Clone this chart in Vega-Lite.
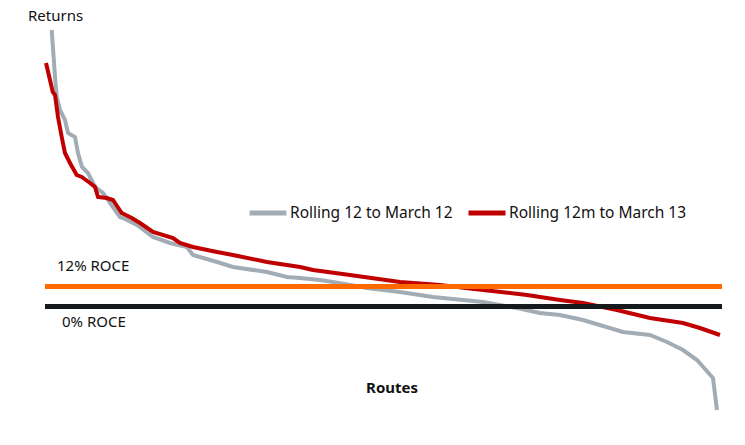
{
  "$schema": "https://vega.github.io/schema/vega-lite/v6.json",
  "width": 745,
  "height": 445,
  "padding": 0,
  "autosize": {"type": "fit", "contains": "padding"},
  "config": {"view": {"stroke": null}, "font": "Noto Sans"},
  "datasets": {
    "returns": [
      {"series": "Rolling 12 to March 12", "route": 0.99, "ret": 165.9},
      {"series": "Rolling 12 to March 12", "route": 1.23, "ret": 152.1},
      {"series": "Rolling 12 to March 12", "route": 1.48, "ret": 137.7},
      {"series": "Rolling 12 to March 12", "route": 1.73, "ret": 125.7},
      {"series": "Rolling 12 to March 12", "route": 2.22, "ret": 117.9},
      {"series": "Rolling 12 to March 12", "route": 2.95, "ret": 111.9},
      {"series": "Rolling 12 to March 12", "route": 3.40, "ret": 104.1},
      {"series": "Rolling 12 to March 12", "route": 4.43, "ret": 101.7},
      {"series": "Rolling 12 to March 12", "route": 4.87, "ret": 92.1},
      {"series": "Rolling 12 to March 12", "route": 5.47, "ret": 83.7},
      {"series": "Rolling 12 to March 12", "route": 6.35, "ret": 80.1},
      {"series": "Rolling 12 to March 12", "route": 7.39, "ret": 71.7},
      {"series": "Rolling 12 to March 12", "route": 8.57, "ret": 68.1},
      {"series": "Rolling 12 to March 12", "route": 9.31, "ret": 63.9},
      {"series": "Rolling 12 to March 12", "route": 10.04, "ret": 59.7},
      {"series": "Rolling 12 to March 12", "route": 11.08, "ret": 53.7},
      {"series": "Rolling 12 to March 12", "route": 11.52, "ret": 53.1},
      {"series": "Rolling 12 to March 12", "route": 13.59, "ret": 48.9},
      {"series": "Rolling 12 to March 12", "route": 15.95, "ret": 41.7},
      {"series": "Rolling 12 to March 12", "route": 18.46, "ret": 38.1},
      {"series": "Rolling 12 to March 12", "route": 20.97, "ret": 35.7},
      {"series": "Rolling 12 to March 12", "route": 21.86, "ret": 30.9},
      {"series": "Rolling 12 to March 12", "route": 25.41, "ret": 26.7},
      {"series": "Rolling 12 to March 12", "route": 27.77, "ret": 23.7},
      {"series": "Rolling 12 to March 12", "route": 32.79, "ret": 20.7},
      {"series": "Rolling 12 to March 12", "route": 35.75, "ret": 17.7},
      {"series": "Rolling 12 to March 12", "route": 37.67, "ret": 17.1},
      {"series": "Rolling 12 to March 12", "route": 40.62, "ret": 15.9},
      {"series": "Rolling 12 to March 12", "route": 42.54, "ret": 14.7},
      {"series": "Rolling 12 to March 12", "route": 47.56, "ret": 11.1},
      {"series": "Rolling 12 to March 12", "route": 52.44, "ret": 8.7},
      {"series": "Rolling 12 to March 12", "route": 57.31, "ret": 5.7},
      {"series": "Rolling 12 to March 12", "route": 64.70, "ret": 2.7},
      {"series": "Rolling 12 to March 12", "route": 69.72, "ret": -0.9},
      {"series": "Rolling 12 to March 12", "route": 73.12, "ret": -3.9},
      {"series": "Rolling 12 to March 12", "route": 76.07, "ret": -5.1},
      {"series": "Rolling 12 to March 12", "route": 79.47, "ret": -8.1},
      {"series": "Rolling 12 to March 12", "route": 85.38, "ret": -15.3},
      {"series": "Rolling 12 to March 12", "route": 89.36, "ret": -17.1},
      {"series": "Rolling 12 to March 12", "route": 91.88, "ret": -21.3},
      {"series": "Rolling 12 to March 12", "route": 94.24, "ret": -26.1},
      {"series": "Rolling 12 to March 12", "route": 96.31, "ret": -32.1},
      {"series": "Rolling 12 to March 12", "route": 98.67, "ret": -42.9},
      {"series": "Rolling 12 to March 12", "route": 99.26, "ret": -62.1},
      {"series": "Rolling 12m to March 13", "route": 0.15, "ret": 146.1},
      {"series": "Rolling 12m to March 13", "route": 0.74, "ret": 135.9},
      {"series": "Rolling 12m to March 13", "route": 1.14, "ret": 128.7},
      {"series": "Rolling 12m to March 13", "route": 1.48, "ret": 126.9},
      {"series": "Rolling 12m to March 13", "route": 1.92, "ret": 113.7},
      {"series": "Rolling 12m to March 13", "route": 2.47, "ret": 101.7},
      {"series": "Rolling 12m to March 13", "route": 2.95, "ret": 92.1},
      {"series": "Rolling 12m to March 13", "route": 3.69, "ret": 86.1},
      {"series": "Rolling 12m to March 13", "route": 4.68, "ret": 78.9},
      {"series": "Rolling 12m to March 13", "route": 5.42, "ret": 77.7},
      {"series": "Rolling 12m to March 13", "route": 6.65, "ret": 74.1},
      {"series": "Rolling 12m to March 13", "route": 7.39, "ret": 71.7},
      {"series": "Rolling 12m to March 13", "route": 7.83, "ret": 65.7},
      {"series": "Rolling 12m to March 13", "route": 9.11, "ret": 65.1},
      {"series": "Rolling 12m to March 13", "route": 10.04, "ret": 63.9},
      {"series": "Rolling 12m to March 13", "route": 10.34, "ret": 62.1},
      {"series": "Rolling 12m to March 13", "route": 11.33, "ret": 56.1},
      {"series": "Rolling 12m to March 13", "route": 12.81, "ret": 53.1},
      {"series": "Rolling 12m to March 13", "route": 14.03, "ret": 50.1},
      {"series": "Rolling 12m to March 13", "route": 15.95, "ret": 44.7},
      {"series": "Rolling 12m to March 13", "route": 18.91, "ret": 41.1},
      {"series": "Rolling 12m to March 13", "route": 19.94, "ret": 38.1},
      {"series": "Rolling 12m to March 13", "route": 21.86, "ret": 35.7},
      {"series": "Rolling 12m to March 13", "route": 25.41, "ret": 32.7},
      {"series": "Rolling 12m to March 13", "route": 27.77, "ret": 30.9},
      {"series": "Rolling 12m to March 13", "route": 32.79, "ret": 26.7},
      {"series": "Rolling 12m to March 13", "route": 37.67, "ret": 23.7},
      {"series": "Rolling 12m to March 13", "route": 39.59, "ret": 21.9},
      {"series": "Rolling 12m to March 13", "route": 45.05, "ret": 18.9},
      {"series": "Rolling 12m to March 13", "route": 52.44, "ret": 14.7},
      {"series": "Rolling 12m to March 13", "route": 58.35, "ret": 12.9},
      {"series": "Rolling 12m to March 13", "route": 64.70, "ret": 9.9},
      {"series": "Rolling 12m to March 13", "route": 71.20, "ret": 6.9},
      {"series": "Rolling 12m to March 13", "route": 76.07, "ret": 3.9},
      {"series": "Rolling 12m to March 13", "route": 79.47, "ret": 2.1},
      {"series": "Rolling 12m to March 13", "route": 84.49, "ret": -2.1},
      {"series": "Rolling 12m to March 13", "route": 89.36, "ret": -6.9},
      {"series": "Rolling 12m to March 13", "route": 94.24, "ret": -9.9},
      {"series": "Rolling 12m to March 13", "route": 96.75, "ret": -12.9},
      {"series": "Rolling 12m to March 13", "route": 99.70, "ret": -17.1}
    ],
    "refs": [
      {"label": "12% ROCE", "ret": 12, "start": 0, "end": 100},
      {"label": "0% ROCE", "ret": 0, "start": 0, "end": 100}
    ],
    "labels": [
      {"text": "Returns", "route": -2.51, "ret": 174.3, "kind": "axis"},
      {"text": "12% ROCE", "route": 1.77, "ret": 24.3, "kind": "ref"},
      {"text": "0% ROCE", "route": 2.51, "ret": -9.3, "kind": "ref"},
      {"text": "Routes", "route": 51.26, "ret": -48.9, "kind": "title"}
    ]
  },
  "layer": [
    {
      "data": {"name": "returns"},
      "mark": {"type": "line", "strokeWidth": 4},
      "encoding": {
        "x": {"field": "route", "type": "quantitative", "axis": null,
              "scale": {"domain": [-6.647, 103.4], "nice": false, "zero": false}},
        "y": {"field": "ret", "type": "quantitative", "axis": null,
              "scale": {"domain": [-83.1, 183.9], "nice": false, "zero": false}},
        "color": {
          "field": "series", "type": "nominal",
          "scale": {"domain": ["Rolling 12 to March 12", "Rolling 12m to March 13"], "range": ["#a2acb4", "#c00000"]},
          "legend": {
            "title": null, "orient": "none", "direction": "horizontal",
            "legendX": 247, "legendY": 192,
            "symbolType": "stroke", "symbolSize": 1369, "symbolStrokeWidth": 5,
            "labelFont": "Noto Sans", "labelFontSize": 15.5, "labelColor": "#111111",
            "labelOffset": 1, "columnPadding": 5, "labelLimit": 300
          }
        }
      }
    },
    {
      "data": {"name": "refs"},
      "transform": [{"filter": "datum.ret == 12"}],
      "mark": {"type": "rule", "strokeWidth": 5, "color": "#ff6a00"},
      "encoding": {
        "x": {"field": "start", "type": "quantitative"},
        "x2": {"field": "end"},
        "y": {"field": "ret", "type": "quantitative"}
      }
    },
    {
      "data": {"name": "refs"},
      "transform": [{"filter": "datum.ret == 0"}],
      "mark": {"type": "rule", "strokeWidth": 5, "color": "#15191c"},
      "encoding": {
        "x": {"field": "start", "type": "quantitative"},
        "x2": {"field": "end"},
        "y": {"field": "ret", "type": "quantitative"}
      }
    },
    {
      "data": {"name": "labels"},
      "transform": [{"filter": "datum.kind != 'title'"}],
      "mark": {"type": "text", "align": "left", "baseline": "middle", "fontSize": 15, "font": "Noto Sans", "color": "#111111"},
      "encoding": {
        "x": {"field": "route", "type": "quantitative"},
        "y": {"field": "ret", "type": "quantitative"},
        "text": {"field": "text"}
      }
    },
    {
      "data": {"name": "labels"},
      "transform": [{"filter": "datum.kind == 'title'"}],
      "mark": {"type": "text", "align": "center", "baseline": "middle", "fontSize": 15, "fontWeight": "bold", "font": "Noto Sans", "color": "#111111"},
      "encoding": {
        "x": {"field": "route", "type": "quantitative"},
        "y": {"field": "ret", "type": "quantitative"},
        "text": {"field": "text"}
      }
    }
  ]
}
